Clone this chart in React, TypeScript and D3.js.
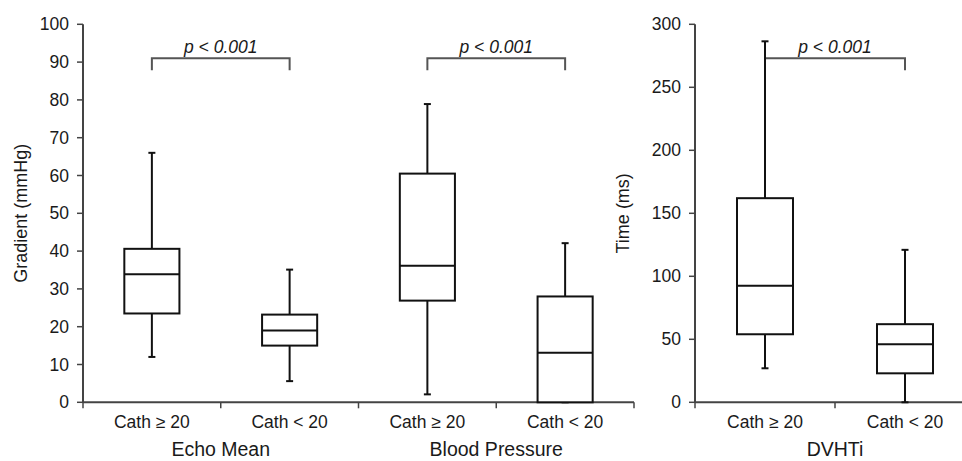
import React from 'react';
import * as d3 from 'd3';

// groups and categories
const leftGroups = ['Echo Mean', 'Blood Pressure'];
const rightGroups = ['DVHTi'];
const boxCategories = ['Cath ≥ 20', 'Cath < 20'];

// gradient (mmHg), order: Echo ≥20, Echo <20, BP ≥20, BP <20
const gradientMin = [12, 5.6, 2.1, 0];
const gradientQ1 = [23.5, 15, 26.9, 0];
const gradientMedian = [33.9, 19, 36.1, 13.1];
const gradientQ3 = [40.6, 23.2, 60.5, 28];
const gradientMax = [66, 35.1, 78.9, 42.1];

// time (ms), order: DVHTi ≥20, DVHTi <20
const timeMin = [27, 0];
const timeQ1 = [54, 23];
const timeMedian = [92.5, 46];
const timeQ3 = [162, 62];
const timeMax = [286.5, 121];

const gradientTicks = [0, 10, 20, 30, 40, 50, 60, 70, 80, 90, 100];
const timeTicks = [0, 50, 100, 150, 200, 250, 300];

const pLabel = 'p < 0.001';
const gradientBracket = 91;
const timeBracket = 273;

const FONT = '"Liberation Sans", Arial, sans-serif';
const AXIS = '#444';
const TXT = '#1a1a1a';

type Box = { key: string; group: string; cat: string; min: number; q1: number; med: number; q3: number; max: number };

function makeBoxes(groups: string[], mins: number[], q1s: number[], meds: number[], q3s: number[], maxs: number[]): Box[] {
  const out: Box[] = [];
  groups.forEach((g, gi) => {
    boxCategories.forEach((c, ci) => {
      const i = gi * boxCategories.length + ci;
      out.push({ key: g + '|' + c, group: g, cat: c, min: mins[i], q1: q1s[i], med: meds[i], q3: q3s[i], max: maxs[i] });
    });
  });
  return out;
}

function Panel({ boxes, groups, x0, x1, yMax, ticks, title, titleX, bracket }: {
  boxes: Box[]; groups: string[]; x0: number; x1: number; yMax: number; ticks: number[];
  title: string; titleX: number; bracket: number;
}) {
  const y = d3.scaleLinear().domain([0, yMax]).range([402.3, 24.3]);
  const x = d3.scaleBand<string>().domain(boxes.map(b => b.key)).range([x0, x1]).padding(0);
  const bw = x.bandwidth() * 0.4;
  const cap = 7;
  const cx = (k: string) => (x(k) as number) + x.bandwidth() / 2;
  const y0 = y(0);

  return (
    <g>
      {/* y axis */}
      <line x1={x0} x2={x0} y1={y(yMax)} y2={y0} stroke={AXIS} strokeWidth={2} />
      {ticks.map(t => (
        <g key={t}>
          <line x1={x0 - 6} x2={x0} y1={y(t)} y2={y(t)} stroke={AXIS} strokeWidth={1.5} />
          <text x={x0 - 14} y={y(t)} dy="0.35em" textAnchor="end" fontSize={17.5} fill={TXT} fontFamily={FONT}>{t}</text>
        </g>
      ))}
      <text transform={`translate(${titleX},${(y(yMax) + y0) / 2}) rotate(-90)`} dy="0.35em" textAnchor="middle"
        fontSize={18} fill={TXT} fontFamily={FONT}>{title}</text>

      {/* x axis */}
      <line x1={x0} x2={x1} y1={y0} y2={y0} stroke={AXIS} strokeWidth={2} />
      {[...boxes.map(b => x(b.key) as number), x1].map((t, i) => (
        <line key={i} x1={t} x2={t} y1={y0} y2={y0 + 6} stroke={AXIS} strokeWidth={1.5} />
      ))}
      {boxes.map(b => (
        <text key={b.key} x={cx(b.key)} y={428} textAnchor="middle" fontSize={17.5} fill={TXT} fontFamily={FONT}>{b.cat}</text>
      ))}
      {groups.map(g => {
        const keys = boxes.filter(b => b.group === g).map(b => b.key);
        const gx = ((x(keys[0]) as number) + (x(keys[keys.length - 1]) as number) + x.bandwidth()) / 2;
        return (
          <g key={g}>
            <text x={gx} y={456} textAnchor="middle" fontSize={19.5} fill={TXT} fontFamily={FONT}>{g}</text>
            <path d={`M${cx(keys[0])},${y(bracket) + 12}V${y(bracket)}H${cx(keys[keys.length - 1])}V${y(bracket) + 12}`}
              fill="none" stroke="#555" strokeWidth={2} />
            <text x={gx} y={y(bracket) - 5} textAnchor="middle" fontSize={17.5} fontStyle="italic" fill={TXT} fontFamily={FONT}>{pLabel}</text>
          </g>
        );
      })}

      {/* boxes */}
      {boxes.map(b => {
        const c = cx(b.key);
        return (
          <g key={b.key} stroke="#111" strokeWidth={2} fill="none">
            <line x1={c} x2={c} y1={y(b.max)} y2={y(b.q3)} />
            <line x1={c} x2={c} y1={y(b.q1)} y2={y(b.min)} />
            <line x1={c - cap / 2} x2={c + cap / 2} y1={y(b.max)} y2={y(b.max)} />
            <line x1={c - cap / 2} x2={c + cap / 2} y1={y(b.min)} y2={y(b.min)} />
            <rect x={c - bw / 2} y={y(b.q3)} width={bw} height={y(b.q1) - y(b.q3)} fill="white" />
            <line x1={c - bw / 2} x2={c + bw / 2} y1={y(b.med)} y2={y(b.med)} />
          </g>
        );
      })}
    </g>
  );
}

export default function App() {
  const gradientBoxes = makeBoxes(leftGroups, gradientMin, gradientQ1, gradientMedian, gradientQ3, gradientMax);
  const timeBoxes = makeBoxes(rightGroups, timeMin, timeQ1, timeMedian, timeQ3, timeMax);
  return (
    <svg width={962} height={461} style={{ position: 'absolute', left: 0, top: 0, background: 'white' }}>
      <rect width={962} height={461} fill="white" />
      <Panel boxes={gradientBoxes} groups={leftGroups} x0={83} x1={634} yMax={100} ticks={gradientTicks}
        title="Gradient (mmHg)" titleX={21} bracket={gradientBracket} />
      <Panel boxes={timeBoxes} groups={rightGroups} x0={695} x1={975} yMax={300} ticks={timeTicks}
        title="Time (ms)" titleX={623} bracket={timeBracket} />
    </svg>
  );
}
